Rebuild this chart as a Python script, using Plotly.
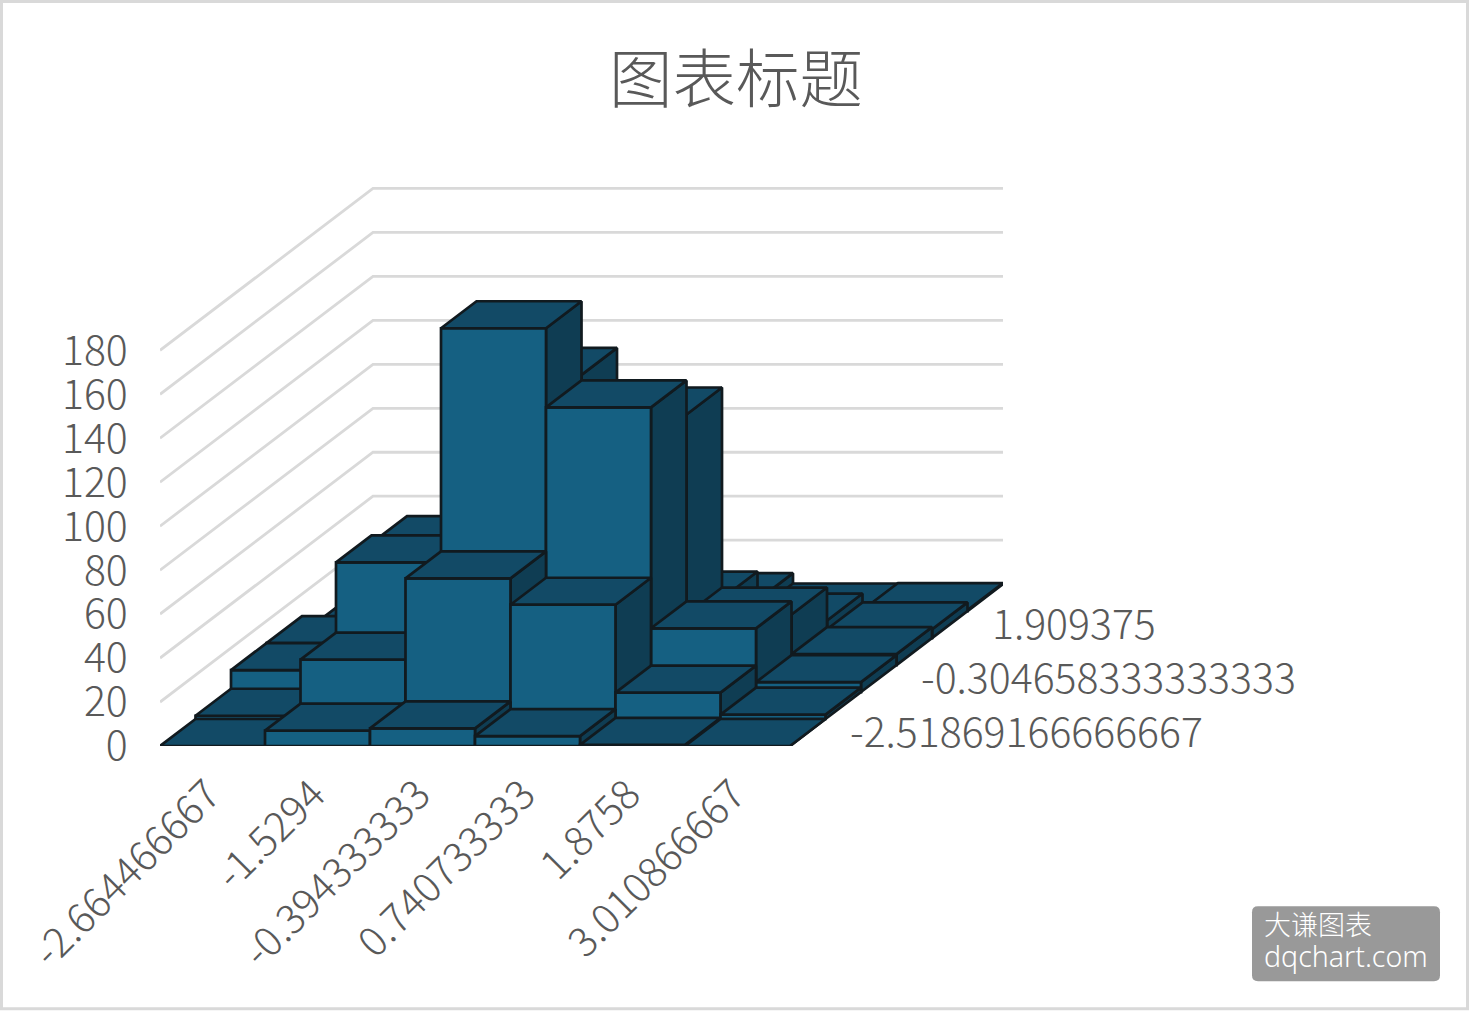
import plotly.graph_objects as go

col_labels = ["-2.664466667", "-1.5294", "-0.394333333", "0.740733333", "1.8758", "3.010866667"]
row_labels = ["-2.51869166666667", "", "-0.304658333333333", "", "1.909375", ""]
y_ticks = [0, 20, 40, 60, 80, 100, 120, 140, 160, 180]

row_0 = [0, 7, 8, 4.5, 0.5, 0]
row_1 = [1.5, 27, 64, 52, 12, 2]
row_2 = [10, 59, 165.5, 129.5, 29, 4.5]
row_3 = [10, 55.5, 132, 114, 23, 5]
row_4 = [2, 20, 60, 18, 8, 4]
row_5 = [0.5, 5, 10, 5, 0.3, 0.5]
rows = [row_0, row_1, row_2, row_3, row_4, row_5]

PX_COL = 105.0
PX_UNIT = 2.2
DX = 35.5 / PX_COL
DY = 27.0 / PX_UNIT
L, R, T, B = 160, 1003, 150, 746.5
W, H = 1469, 1011

FRONT, TOP, SIDE, EDGE = "#156082", "#124a66", "#0f3d53", "#111a1f"
GRID, TXT = "#d9d9d9", "#595959"
FAM = "Noto Sans CJK SC"
SIZE = 41


def proj(c, d, v):
    return c + d * DX, v + d * DY


def px(x):
    return (x - L) / (R - L)


def py(y):
    return (B - y) / (B - T)


def face(pts, color):
    xs, ys = zip(*[proj(*p) for p in pts + pts[:1]])
    return go.Scatter(x=xs, y=ys, mode="lines", fill="toself", fillcolor=color,
                      line=dict(color=EDGE, width=2.7), hoverinfo="skip",
                      showlegend=False, cliponaxis=False)


fig = go.Figure()
nr, nc = len(rows), len(col_labels)

for v in y_ticks[1:]:
    a, b, c = proj(0, 0, v), proj(0, nr, v), proj(nc, nr, v)
    fig.add_trace(go.Scatter(x=[a[0], b[0], c[0]], y=[a[1], b[1], c[1]], mode="lines",
                             line=dict(color=GRID, width=2.8), hoverinfo="skip",
                             showlegend=False, cliponaxis=False))

for d in range(nr - 1, -1, -1):
    for c in range(nc):
        h = rows[d][c]
        fig.add_trace(face([(c + 1, d, 0), (c + 1, d + 1, 0), (c + 1, d + 1, h), (c + 1, d, h)], SIDE))
        fig.add_trace(face([(c, d, 0), (c + 1, d, 0), (c + 1, d, h), (c, d, h)], FRONT))
        fig.add_trace(face([(c, d, h), (c + 1, d, h), (c + 1, d + 1, h), (c, d + 1, h)], TOP))

for d, lab in enumerate(row_labels):
    if lab:
        x, y = proj(nc, d + 0.5, 0)
        fig.add_annotation(x=x, y=y, text=lab, xref="x", yref="y", showarrow=False,
                           xanchor="left", yanchor="middle", xshift=40, yshift=4,
                           font=dict(size=SIZE, color=TXT, family=FAM, weight=300))

fig.add_annotation(x=px(1262), y=py(924), xref="paper", yref="paper", text="大谦图表",
                   showarrow=False, xanchor="left", yanchor="middle",
                   font=dict(size=27, color="white", family=FAM, weight=300))
fig.add_annotation(x=px(1262), y=py(957), xref="paper", yref="paper", text="dqchart.com",
                   showarrow=False, xanchor="left", yanchor="middle",
                   font=dict(size=28.5, color="white", family="Noto Sans", weight=300))

x0, x1, y0, y1, r = px(1252), px(1440), py(982), py(907), 6
rx, ry = r / (R - L), r / (B - T)
badge = (f"M{x0+rx},{y0} L{x1-rx},{y0} Q{x1},{y0} {x1},{y0+ry} L{x1},{y1-ry} Q{x1},{y1} {x1-rx},{y1} "
         f"L{x0+rx},{y1} Q{x0},{y1} {x0},{y1-ry} L{x0},{y0+ry} Q{x0},{y0} {x0+rx},{y0} Z")

fig.update_layout(
    width=W, height=H, autosize=False,
    margin=dict(l=L, r=W - R, t=T, b=H - B, pad=0),
    paper_bgcolor="white", plot_bgcolor="white",
    font=dict(family=FAM, color=TXT, size=SIZE),
    title=dict(text="图表标题", x=736 / W, y=1 - 80 / H, xanchor="center", yanchor="middle",
               xref="container", yref="container",
               font=dict(size=63.5, color=TXT, family=FAM, weight=300)),
    xaxis=dict(range=[0, (R - L) / PX_COL], tickmode="array",
               tickvals=[i + 0.46 for i in range(nc)], ticktext=col_labels, tickangle=-45,
               showgrid=False, zeroline=False, showline=False, ticks="outside", ticklen=7,
               tickcolor="rgba(0,0,0,0)", tickfont=dict(size=SIZE, color=TXT, family=FAM, weight=300)),
    yaxis=dict(range=[0, (B - T) / PX_UNIT], tickmode="array", tickvals=y_ticks,
               ticktext=[str(t) for t in y_ticks], showgrid=False, zeroline=False,
               showline=False, ticks="outside", ticklen=23, tickcolor="rgba(0,0,0,0)",
               tickfont=dict(size=SIZE, color=TXT, family=FAM, weight=300)),
    shapes=[
        dict(type="path", xref="paper", yref="paper", layer="below", path=badge,
             fillcolor="#999999", line=dict(width=0)),
        dict(type="rect", xref="paper", yref="paper", layer="above",
             x0=px(1.5), x1=px(W - 1.5), y0=py(H - 1.5), y1=py(1.5),
             line=dict(color=GRID, width=3)),
    ],
)

fig.write_html("out.html", config=dict(displayModeBar=False),
               post_script="document.body.style.margin='0';")
